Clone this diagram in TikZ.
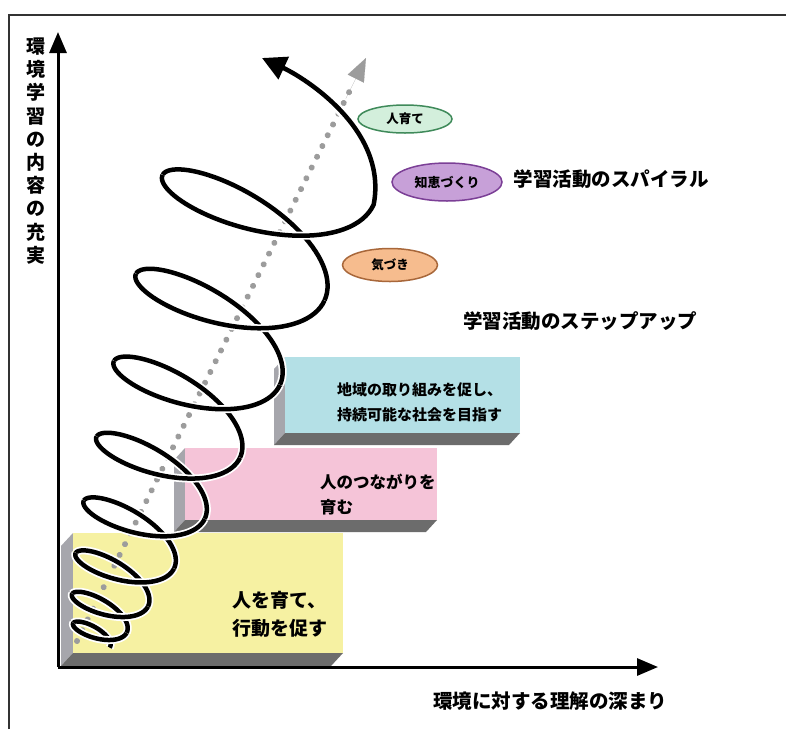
\documentclass[tikz,border=0pt]{standalone}
\usepackage{fontspec}
\newfontfamily\jp{Noto Sans CJK JP}
\usetikzlibrary{arrows.meta,shapes.geometric,calc}

\definecolor{yellowface}{HTML}{F6F1A2}
\definecolor{pinkface}{HTML}{F5C4D8}
\definecolor{blueface}{HTML}{B4E0E6}
\definecolor{bevelL}{HTML}{A6A6AC}
\definecolor{bevelB}{HTML}{6C6C6C}
\definecolor{greenfill}{HTML}{D3EFDC}
\definecolor{greenline}{HTML}{3F8A5A}
\definecolor{purplefill}{HTML}{C7A0D8}
\definecolor{purpleline}{HTML}{7B3F96}
\definecolor{orangefill}{HTML}{F6BC8E}
\definecolor{orangeline}{HTML}{A8673A}
\definecolor{dotgray}{HTML}{9C9C9C}
\definecolor{framegray}{HTML}{333333}

\tikzset{
  axisline/.style={line width=3pt, -{Triangle[length=21pt,width=17pt]}},
  spiralseg/.style={line width=4.5pt, line join=round,
    preaction={draw=white, line width=8pt}},
  spiralend/.style={line width=4.5pt, line join=round, -{Triangle[length=24pt,width=24pt]}},
  dotline/.style={dotgray, line width=6pt, line cap=round, dash pattern=on 0.01pt off 12pt},
  tag/.style={ellipse, line width=1.5pt, inner sep=0pt},
  boxtext/.style={anchor=west, align=left, inner sep=0pt},
  title/.style={inner sep=0pt, font=\jp\bfseries\fontsize{19.5}{20}\selectfont},
}
\def\spX#1{92.73+4.375*#1+2.3125*#1*#1+(18.5+11*#1)*(0.9205*cos(360*#1)+0.1641*sin(360*#1))}
\def\spY#1{640.4-13.31*#1-5.8*#1*#1+(18.5+11*#1)*(0.3907*cos(360*#1)-0.3866*sin(360*#1))}

\begin{document}
\begin{tikzpicture}[x=1pt,y=-1pt]
\useasboundingbox (0,0) rectangle (786,729);
\fill[white] (0,0) rectangle (786,729);

% outer frame
\coordinate (FL) at (9,729);
\coordinate (FC) at (9,15);
\coordinate (FR) at (786,15);
\draw[framegray, line width=1.5pt] (FL) -- (FC) -- (FR);

% step blocks
\fill[bevelL] (73,533) -- (73,653) -- (61,666) -- (61,546) -- cycle;
\fill[bevelB] (73,653) -- (343,653) -- (331,666) -- (61,666) -- cycle;
\fill[yellowface] (73,533) rectangle (343,653);

\fill[bevelL] (185,448) -- (185,520) -- (174,532) -- (174,460) -- cycle;
\fill[bevelB] (185,520) -- (437,520) -- (426,532) -- (174,532) -- cycle;
\fill[pinkface] (185,448) rectangle (437,520);

\fill[bevelL] (285,357) -- (285,433) -- (274,445) -- (274,369) -- cycle;
\fill[bevelB] (285,433) -- (520,433) -- (509,445) -- (274,445) -- cycle;
\fill[blueface] (285,357) rectangle (520,433);

\node[boxtext, font=\jp\bfseries\fontsize{19}{28}\selectfont] (ty) at (232,614) {人を育て、\\行動を促す};
\node[boxtext, font=\jp\bfseries\fontsize{16.5}{25}\selectfont] (tp) at (320,495) {人のつながりを\\育む};
\node[boxtext, font=\jp\bfseries\fontsize{15}{25}\selectfont] (tb) at (337,402) {地域の取り組みを促し、\\持続可能な社会を目指す};

% axes
\coordinate (O) at (58,667);
\coordinate (YT) at (58,32);
\coordinate (XT) at (658,667);
\draw[axisline] (O) -- (YT);
\draw[axisline] (O) -- (XT);

\node[inner sep=0pt, align=center, font=\jp\bfseries\fontsize{19}{23.2}\selectfont] (ylab) at (36,151) {環\\境\\学\\習\\の\\内\\容\\の\\充\\実};
\node[title] (xlab) at (550,701) {環境に対する理解の深まり};

% dotted axis of the spiral
\coordinate (DS) at (77,641);
\coordinate (DE) at (366,58);
\draw[dotline] (DS) -- ($(DS)!0.955!(DE)$);
\draw[dotgray, line width=0.1pt, -{Triangle[length=23pt,width=18pt]}] ($(DS)!0.93!(DE)$) -- (DE);

% spiral, drawn in half turns so that later parts pass over earlier ones
\foreach \a/\b in {0/0.5,0.5/1,1/1.5,1.5/2,2/2.5,2.5/3,3/3.5,3.5/4,4/4.5,4.5/5,5/5.5,5.5/6,6/6.5,6.5/7,7/7.5}{
  \draw[spiralseg] plot[domain=\a:\b, samples=45, variable=\u] ({\spX{\u}},{\spY{\u}});
}
\coordinate (ST) at (262,58);
\draw[spiralend, preaction={draw=white, line width=8pt, arrows=-}] plot[domain=7.5:8, samples=45, variable=\u] ({\spX{\u}},{\spY{\u}})
  .. controls (388,130) and (305,78) .. (ST);

% tags
\node[tag, draw=greenline, fill=greenfill, minimum width=94pt, minimum height=28pt] (g) at (405,119) {\jp\bfseries\fontsize{12.5}{13}\selectfont 人育て};
\node[tag, draw=purpleline, fill=purplefill, minimum width=110pt, minimum height=38pt] (p) at (447,182) {\jp\bfseries\fontsize{13}{14}\selectfont 知恵づくり};
\node[tag, draw=orangeline, fill=orangefill, minimum width=95pt, minimum height=33pt] (o) at (390,265) {\jp\bfseries\fontsize{12.5}{13}\selectfont 気づき};

\node[title] (spir) at (611,179) {学習活動のスパイラル};
\node[title] (stepup) at (580,321) {学習活動のステップアップ};
\end{tikzpicture}
\end{document}
